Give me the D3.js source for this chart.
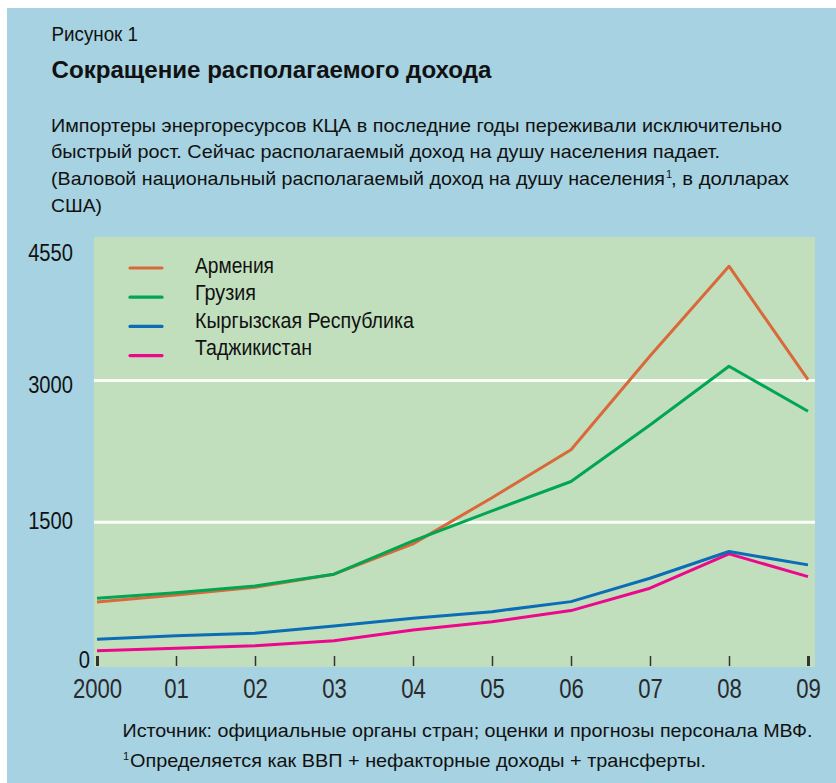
<!DOCTYPE html>
<html><head><meta charset="utf-8">
<script src="https://cdn.jsdelivr.net/npm/d3@7"></script>
<style>
body{margin:0;background:#fff;}
svg text{font-family:"Liberation Sans",Arial,sans-serif;}
</style></head>
<body><svg id="c" width="836" height="783"></svg>
<script>
const years = ["2000","01","02","03","04","05","06","07","08","09"];
const armenia = [657, 731, 812, 950, 1271, 1760, 2267, 3260, 4209, 3008];
const georgia = [696, 755, 826, 950, 1303, 1620, 1931, 2528, 3150, 2675];
const kyrgyz  = [261, 300, 325, 402, 484, 554, 660, 907, 1190, 1049];
const tajik   = [141, 166, 194, 247, 360, 448, 565, 802, 1165, 925];
const seriesNames = ["Армения","Грузия","Кыргызская Республика","Таджикистан"];
const seriesColors = ["#d9683a","#00a651","#0a6db5","#ec078c"];
const yTicks = [0, 1500, 3000, 4550];

const svg = d3.select("#c");
svg.append("rect").attr("x",7).attr("y",8).attr("width",829).attr("height",775).attr("fill","#a6d2e1");

function txt(x, y, size, w, s, bold){
  const t = svg.append("text").attr("x",x).attr("y",y).attr("font-size",size).attr("fill","#111")
    .attr("textLength",w).attr("lengthAdjust","spacingAndGlyphs").text(s);
  if (bold) t.attr("font-weight","bold");
  return t;
}
txt(51.5, 40.7, 19.5, 86.5, "Рисунок 1");
txt(51.5, 77.5, 23, 440, "Сокращение располагаемого дохода", true);
txt(51, 131.7, 19, 731, "Импортеры энергоресурсов КЦА в последние годы переживали исключительно");
txt(51, 158.3, 19, 669, "быстрый рост. Сейчас располагаемый доход на душу населения падает.");
txt(51, 185, 19, 614, "(Валовой национальный располагаемый доход на душу населения");
svg.append("text").attr("x",666).attr("y",178).attr("font-size",11).attr("fill","#111").text("1");
txt(671, 185, 19, 118, ", в долларах");
txt(51, 211.5, 19, 51, "США)");

const x = d3.scalePoint().domain(years).range([97, 808]);
const y = d3.scaleLinear().domain([0, 4550]).range([664, 234]);

svg.append("rect").attr("x",94).attr("y",237).attr("width",721).attr("height",430).attr("fill","#c2dfbd");

// gridlines
svg.append("g").selectAll("line").data([1500,3000]).join("line")
  .attr("x1",94).attr("x2",815).attr("y1",d=>y(d)).attr("y2",d=>y(d))
  .attr("stroke","#fbfdf9").attr("stroke-width",3);

// y axis
const yLabelShift = {0:[17,3.5], 1500:[0,6], 3000:[0,12.5], 4550:[0,26]};
const ya = svg.append("g").attr("transform","translate(73,0)")
  .call(d3.axisLeft(y).tickValues(yTicks).tickSize(0).tickPadding(0).tickFormat(d3.format("d")));
ya.select(".domain").remove();
ya.selectAll("text").attr("font-size",24).attr("fill","#111")
  .attr("x",0).attr("dy",0).attr("y",0)
  .attr("transform", d => `translate(${yLabelShift[d][0]},${yLabelShift[d][1]}) scale(0.84,1)`);

// x axis
const xa = svg.append("g").attr("transform","translate(0,666)")
  .call(d3.axisTop(x).tickSize(10).tickPadding(0));
xa.select(".domain").remove();
xa.selectAll(".tick line").attr("stroke","#333").attr("stroke-width",(d,i)=> (i===0||i===years.length-1)?3:1.5);
xa.selectAll("text").attr("y",0).attr("dy",0).attr("transform","translate(0,31.5) scale(0.82,1)")
  .attr("font-size",27).attr("fill","#2a2a2a");

const line = d3.line().x((d,i)=>x(years[i])).y(d=>y(d));
const all = [armenia, georgia, kyrgyz, tajik];
[3,2,0,1].forEach(k=>{
  svg.append("path").datum(all[k]).attr("d",line).attr("fill","none")
    .attr("stroke",seriesColors[k]).attr("stroke-width",3).attr("stroke-linejoin","round");
});

// legend
const legW = [79, 61, 219, 117];
seriesNames.forEach((n,i)=>{
  const yy = 268 + i*29.2;
  svg.append("line").attr("x1",130).attr("x2",162).attr("y1",yy).attr("y2",yy)
    .attr("stroke",seriesColors[i]).attr("stroke-width",3.2).attr("stroke-linecap","round");
  txt(195, 273 + i*27.3, 21.5, legW[i], n);
});

txt(122.5, 736.7, 19, 690, "Источник: официальные органы стран; оценки и прогнозы персонала МВФ.");
svg.append("text").attr("x",123).attr("y",759.7).attr("font-size",11).attr("fill","#111").text("1");
txt(130, 766.7, 19, 576, "Определяется как ВВП + нефакторные доходы + трансферты.");
</script></body></html>
